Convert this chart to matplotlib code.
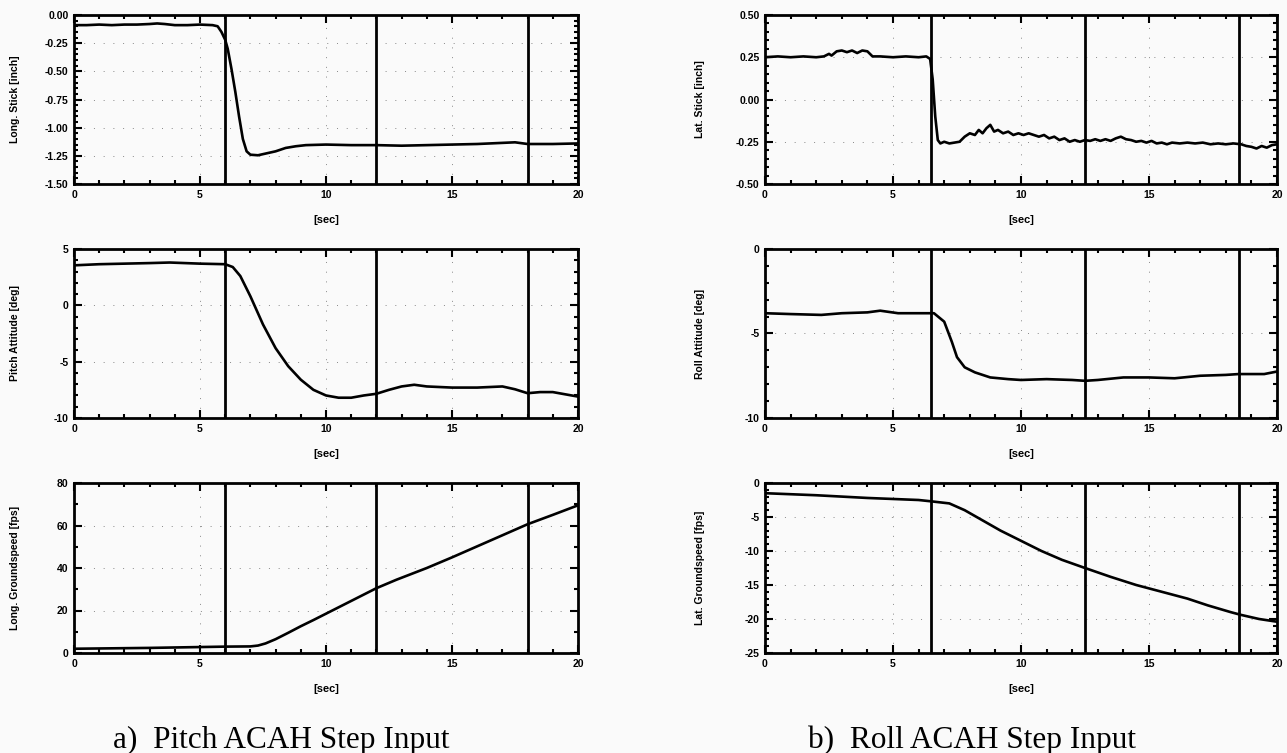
import matplotlib
matplotlib.use("Agg")
import matplotlib.pyplot as plt
from matplotlib.ticker import MultipleLocator, FormatStrFormatter

plt.rcParams['axes.unicode_minus'] = False
plt.rcParams['font.family'] = ['Liberation Sans', 'DejaVu Sans']

# --- data ---
# a) pitch step
long_stick_t = [0, 0.5, 1.0, 1.5, 2.0, 2.5, 3.0, 3.3, 3.6, 4.0, 4.5, 5.0, 5.5, 5.7, 5.85, 6.0, 6.1,
                6.25, 6.4, 6.55, 6.7, 6.85, 7.0, 7.3, 7.6, 8.0, 8.4, 8.8, 9.2, 10, 11, 12, 13,
                14, 15, 16, 17, 17.5, 18, 19, 20]
long_stick = [-0.09, -0.09, -0.085, -0.09, -0.085, -0.085, -0.08, -0.075, -0.08, -0.09, -0.09,
              -0.085, -0.09, -0.1, -0.15, -0.22, -0.3, -0.48, -0.68, -0.9, -1.1, -1.21, -1.24,
              -1.245, -1.23, -1.21, -1.18, -1.165, -1.155, -1.15, -1.155, -1.155, -1.16,
              -1.155, -1.15, -1.145, -1.135, -1.13, -1.145, -1.145, -1.14]

pitch_t = [0, 1, 2, 3, 3.8, 5, 6.0, 6.3, 6.6, 7.0, 7.5, 8.0, 8.5, 9.0, 9.5, 10.0, 10.5, 11.0,
           11.5, 12.0, 12.5, 13.0, 13.5, 14.0, 15.0, 16.0, 17.0, 17.5, 18.0, 18.5, 19.0, 19.5, 20]
pitch = [3.55, 3.65, 3.7, 3.75, 3.8, 3.7, 3.65, 3.4, 2.6, 0.8, -1.7, -3.8, -5.4, -6.6, -7.5,
         -8.0, -8.2, -8.2, -8.0, -7.85, -7.5, -7.2, -7.05, -7.2, -7.3, -7.3, -7.2, -7.45, -7.8,
         -7.7, -7.7, -7.9, -8.1]

long_gs_t = [0, 3, 6, 7.0, 7.3, 7.6, 8.0, 8.5, 9.0, 9.5, 10.0, 10.5, 11.0, 11.5, 12.0, 12.8,
             14.0, 15.0, 16.0, 17.0, 18.0, 19.0, 20]
long_gs = [2.0, 2.4, 3.0, 3.1, 3.5, 4.5, 6.5, 9.5, 12.6, 15.5, 18.5, 21.5, 24.5, 27.5, 30.5,
           34.5, 40.0, 45.0, 50.2, 55.4, 60.6, 65.0, 69.5]

# b) roll step
lat_stick_t = [0, 0.5, 1.0, 1.5, 2.0, 2.3, 2.5, 2.6, 2.8, 3.0, 3.2, 3.4, 3.6, 3.8, 4.0, 4.2,
               4.5, 5.0, 5.5, 6.0, 6.3, 6.45, 6.55, 6.65, 6.75, 6.85, 7.0, 7.2, 7.4, 7.6, 7.8,
               8.0, 8.2, 8.35, 8.5, 8.65, 8.8, 8.95, 9.1, 9.3, 9.5, 9.7, 9.9, 10.1, 10.3, 10.5,
               10.7, 10.9, 11.1, 11.3, 11.5, 11.7, 11.9, 12.1, 12.3, 12.5, 12.7, 12.9, 13.1,
               13.3, 13.5, 13.7, 13.9, 14.1, 14.3, 14.5, 14.7, 14.9, 15.1, 15.3, 15.5, 15.7,
               15.9, 16.2, 16.5, 16.8, 17.1, 17.4, 17.7, 18.0, 18.3, 18.6, 18.8, 19.0, 19.2,
               19.4, 19.6, 19.8, 20.0]
lat_stick = [0.25, 0.255, 0.25, 0.255, 0.25, 0.255, 0.27, 0.26, 0.285, 0.29, 0.28, 0.29,
             0.275, 0.29, 0.285, 0.255, 0.255, 0.25, 0.255, 0.25, 0.255, 0.24, 0.12, -0.1,
             -0.24, -0.26, -0.25, -0.26, -0.255, -0.25, -0.22, -0.2, -0.21, -0.18, -0.2, -0.17,
             -0.15, -0.19, -0.18, -0.2, -0.19, -0.21, -0.2, -0.21, -0.2, -0.21, -0.22, -0.21,
             -0.23, -0.22, -0.24, -0.23, -0.25, -0.24, -0.25, -0.24, -0.245, -0.235, -0.245,
             -0.235, -0.245, -0.23, -0.22, -0.235, -0.24, -0.25, -0.245, -0.255, -0.245, -0.26,
             -0.255, -0.265, -0.255, -0.26, -0.255, -0.26, -0.255, -0.265, -0.26, -0.265, -0.26,
             -0.265, -0.275, -0.28, -0.29, -0.275, -0.285, -0.27, -0.265]

roll_t = [0, 1, 2.2, 3, 4, 4.5, 5.2, 6.0, 6.6, 7.0, 7.3, 7.5, 7.8, 8.2, 8.8, 9.5, 10.0, 11.0,
          12.0, 12.5, 13.0, 14.0, 15.0, 16.0, 17.0, 18.0, 18.5, 19.5, 20]
roll = [-3.8, -3.85, -3.9, -3.8, -3.75, -3.65, -3.8, -3.8, -3.8, -4.3, -5.5, -6.4, -7.0,
        -7.3, -7.6, -7.7, -7.75, -7.7, -7.75, -7.8, -7.75, -7.6, -7.6, -7.65, -7.5, -7.45,
        -7.4, -7.4, -7.25]

lat_gs_t = [0, 2, 4, 6, 6.5, 7.2, 7.8, 8.5, 9.2, 10.0, 10.8, 11.6, 12.5, 13.5, 14.5, 15.5,
            16.5, 17.3, 18.2, 18.6, 19.3, 20]
lat_gs = [-1.5, -1.8, -2.2, -2.5, -2.7, -3.0, -4.0, -5.5, -7.0, -8.5, -10.0, -11.3, -12.5,
          -13.8, -15.0, -16.0, -17.0, -18.0, -19.0, -19.4, -20.0, -20.4]

left_marks = [6, 12, 18]
right_marks = [6.5, 12.5, 18.5]

# (t, y, ylabel, ylim, major, minor, fmt)
left_panels = [
    (long_stick_t, long_stick, 'Long. Stick [inch]', (-1.5, 0.0), 0.25, 0.05, '%.2f'),
    (pitch_t, pitch, 'Pitch Attitude [deg]', (-10, 5), 5, 1, '%d'),
    (long_gs_t, long_gs, 'Long. Groundspeed [fps]', (0, 80), 20, 10, '%d'),
]
right_panels = [
    (lat_stick_t, lat_stick, 'Lat. Stick [inch]', (-0.5, 0.5), 0.25, 0.05, '%.2f'),
    (roll_t, roll, 'Roll Attitude [deg]', (-10, 0), 5, 1, '%d'),
    (lat_gs_t, lat_gs, 'Lat. Groundspeed [fps]', (-25, 0), 5, 1, '%d'),
]

fig = plt.figure(figsize=(12.87, 7.53), dpi=100, facecolor='#fafafa')

W, H = 1287.0, 753.0
rows_px = [(15, 184), (249, 418), (483, 653)]
cols_px = [(74, 578, left_panels, left_marks, -0.108),
           (765, 1277, right_panels, right_marks, -0.117)]

for x0, x1, panels, marks, ylab_x in cols_px:
    for (top, bot), (t, y, ylab, ylim, major, minor, fmt) in zip(rows_px, panels):
        ax = fig.add_axes([x0 / W, 1 - bot / H, (x1 - x0) / W, (bot - top) / H])
        ax.set_facecolor('#fafafa')
        ax.plot(t, y, color='black', lw=1.9)
        for m in marks:
            ax.axvline(m, color='black', lw=2.0)
        ax.set_xlim(0, 20)
        ax.set_ylim(*ylim)
        ax.xaxis.set_major_locator(MultipleLocator(5))
        ax.xaxis.set_minor_locator(MultipleLocator(1))
        ax.yaxis.set_major_locator(MultipleLocator(major))
        ax.yaxis.set_minor_locator(MultipleLocator(minor))
        ax.yaxis.set_major_formatter(FormatStrFormatter(fmt))
        ax.tick_params(which='both', direction='in', top=True, right=True,
                       width=1.5, labelsize=7.5)
        ax.tick_params(which='major', length=6, pad=4)
        ax.tick_params(which='minor', length=3)
        for lab in ax.get_xticklabels() + ax.get_yticklabels():
            lab.set_fontweight('bold')
        for s in ax.spines.values():
            s.set_linewidth(2.0)
        ax.grid(True, which='major', color='#888888', lw=0.7, linestyle=(0, (1, 9)))
        ax.set_xlabel('[sec]', fontsize=8, fontweight='bold', labelpad=11)
        ax.set_ylabel(ylab, fontsize=7.5, fontweight='bold')
        ax.yaxis.set_label_coords(ylab_x, 0.5)

fig.text(281 / W, 1 - 740 / H, 'a)  Pitch ACAH Step Input', ha='center', va='center',
         family='Liberation Serif', fontsize=22.5)
fig.text(972 / W, 1 - 740 / H, 'b)  Roll ACAH Step Input', ha='center', va='center',
         family='Liberation Serif', fontsize=22.5)

fig.savefig('out.png', dpi=100, facecolor=fig.get_facecolor())
